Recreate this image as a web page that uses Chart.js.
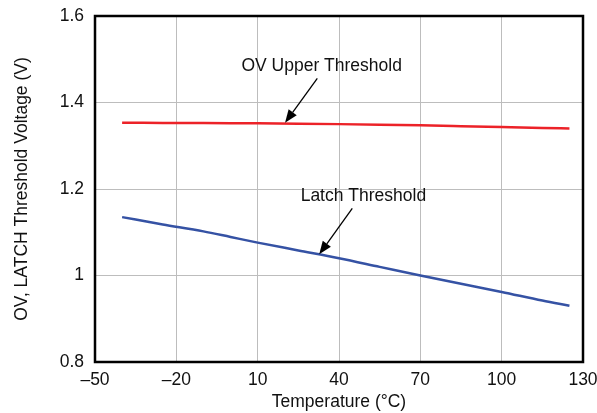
<!DOCTYPE html>
<html>
<head>
<meta charset="utf-8">
<script src="https://cdn.jsdelivr.net/npm/chart.js@4"></script>
<style>
  html, body { margin: 0; padding: 0; background: #fff; }
  #wrap { width: 597px; height: 413px; }
</style>
</head>
<body>
<div id="wrap"><canvas id="chart" width="597" height="413"></canvas></div>
<script>
// Temperature points (°C)
const temps = [-40, -25, -10, 0, 10, 25, 40, 55, 70, 85, 100, 115, 125];
// OV upper threshold (V)
const ovUpper = [1.3530, 1.3528, 1.3525, 1.3522, 1.3518, 1.3510, 1.3500, 1.3488, 1.3472, 1.3453, 1.3433, 1.3413, 1.3400];
// Latch threshold (V)
const latch = [1.135, 1.118, 1.102, 1.089, 1.076, 1.058, 1.040, 1.020, 1.000, 0.981, 0.962, 0.942, 0.930];

const xTicks = [-50, -20, 10, 40, 70, 100, 130];
const yTicks = [0.8, 1.0, 1.2, 1.4, 1.6];

// callouts: text position, arrow tail, arrow head (data coords)
const callouts = [
    { text: 'OV Upper Threshold', tx: 33.6, ty: 1.483, x0: 32.0, y0: 1.456, x1: 20.1, y1: 1.353 },
    { text: 'Latch Threshold', tx: 49.0, ty: 1.183, x0: 44.9, y0: 1.155, x1: 32.7, y1: 1.049 }
];

const FONT = '"Liberation Sans", Arial, sans-serif';
const FS = 17.5;

function fmtNum(v) {
    let s = (Math.abs(v - Math.round(v)) < 1e-9) ? String(Math.round(v)) : v.toFixed(1);
    return s.replace('-', '\u2013');
}

const framePlugin = {
    id: 'frame',
    afterDatasetsDraw(chart) {
        const { ctx, chartArea: a, scales } = chart;
        ctx.save();
        ctx.strokeStyle = '#000';
        ctx.lineWidth = 2.5;
        ctx.strokeRect(a.left, a.top, a.right - a.left, a.bottom - a.top);

        // callouts
        ctx.font = FS + 'px ' + FONT;
        ctx.textAlign = 'center';
        ctx.textBaseline = 'middle';
        callouts.forEach(c => {
            ctx.fillStyle = '#111';
            ctx.fillText(c.text, scales.x.getPixelForValue(c.tx), scales.y.getPixelForValue(c.ty));
            const x0 = scales.x.getPixelForValue(c.x0), y0 = scales.y.getPixelForValue(c.y0);
            const x1 = scales.x.getPixelForValue(c.x1), y1 = scales.y.getPixelForValue(c.y1);
            const ang = Math.atan2(y1 - y0, x1 - x0);
            const hl = 13, hw = 5;
            const bx = x1 - hl * Math.cos(ang), by = y1 - hl * Math.sin(ang);
            ctx.lineWidth = 1.3;
            ctx.beginPath();
            ctx.moveTo(x0, y0);
            ctx.lineTo(bx, by);
            ctx.stroke();
            ctx.beginPath();
            ctx.moveTo(x1, y1);
            ctx.lineTo(bx + hw * Math.sin(ang), by - hw * Math.cos(ang));
            ctx.lineTo(bx - hw * Math.sin(ang), by + hw * Math.cos(ang));
            ctx.closePath();
            ctx.fillStyle = '#000';
            ctx.fill();
        });
        ctx.restore();
    }
};

new Chart(document.getElementById('chart').getContext('2d'), {
    type: 'line',
    data: {
        datasets: [
            {
                label: 'OV Upper Threshold',
                data: temps.map((t, i) => ({ x: t, y: ovUpper[i] })),
                borderColor: '#ec2228',
                borderWidth: 2.5,
                pointRadius: 0,
                cubicInterpolationMode: 'monotone'
            },
            {
                label: 'Latch Threshold',
                data: temps.map((t, i) => ({ x: t, y: latch[i] })),
                borderColor: '#3552a4',
                borderWidth: 2.5,
                pointRadius: 0,
                cubicInterpolationMode: 'monotone'
            }
        ]
    },
    options: {
        responsive: false,
        animation: false,
        devicePixelRatio: 1,
        layout: { padding: { top: 16, right: 14, left: 0, bottom: 0 } },
        plugins: { legend: { display: false }, tooltip: { enabled: false } },
        scales: {
            x: {
                type: 'linear',
                min: -50, max: 130,
                afterBuildTicks: s => { s.ticks = xTicks.map(v => ({ value: v })); },
                afterFit: s => { s.height = 51; s.paddingLeft = 0; s.paddingRight = 0; },
                grid: { color: '#bdbdbd', lineWidth: 1, drawTicks: false },
                border: { display: false },
                ticks: {
                    color: '#111',
                    font: { family: FONT, size: FS },
                    padding: 8,
                    maxRotation: 0,
                    callback: v => fmtNum(v)
                },
                title: {
                    display: true,
                    text: 'Temperature (\u00B0C)',
                    color: '#111',
                    font: { family: FONT, size: FS },
                    padding: { top: 0, bottom: 0 }
                }
            },
            y: {
                min: 0.8, max: 1.6,
                afterBuildTicks: s => { s.ticks = yTicks.map(v => ({ value: v })); },
                afterFit: s => { s.width = 95; s.paddingTop = 0; s.paddingBottom = 0; },
                grid: { color: '#bdbdbd', lineWidth: 1, drawTicks: false },
                border: { display: false },
                ticks: {
                    color: '#111',
                    font: { family: FONT, size: FS },
                    padding: 11,
                    callback: v => fmtNum(v)
                },
                title: {
                    display: true,
                    text: 'OV, LATCH Threshold Voltage (V)',
                    color: '#111',
                    font: { family: FONT, size: FS },
                    padding: { top: 12, bottom: 0 }
                }
            }
        }
    },
    plugins: [framePlugin]
});
</script>
</body>
</html>
